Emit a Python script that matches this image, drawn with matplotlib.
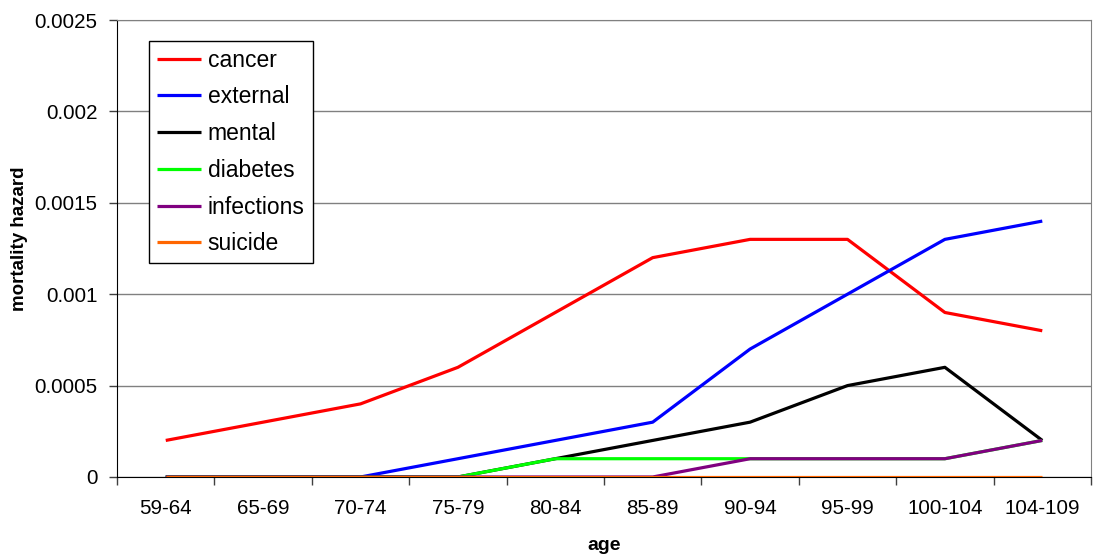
import matplotlib
matplotlib.use("Agg")
import matplotlib.pyplot as plt
from matplotlib.ticker import FixedLocator, NullFormatter

plt.rcParams['font.family'] = ['Liberation Sans', 'DejaVu Sans']

ages = ["59-64", "65-69", "70-74", "75-79", "80-84", "85-89", "90-94", "95-99", "100-104", "104-109"]
cancer = [0.0002, 0.0003, 0.0004, 0.0006, 0.0009, 0.0012, 0.0013, 0.0013, 0.0009, 0.0008]
external = [0, 0, 0, 0.0001, 0.0002, 0.0003, 0.0007, 0.0010, 0.0013, 0.0014]
mental = [0, 0, 0, 0, 0.0001, 0.0002, 0.0003, 0.0005, 0.0006, 0.0002]
diabetes = [0, 0, 0, 0, 0.0001, 0.0001, 0.0001, 0.0001, 0.0001, 0.0002]
infections = [0, 0, 0, 0, 0, 0, 0.0001, 0.0001, 0.0001, 0.0002]
suicide = [0, 0, 0, 0, 0, 0, 0, 0, 0, 0]
yticks = [0, 0.0005, 0.001, 0.0015, 0.002, 0.0025]
ytick_labels = ["0", "0.0005", "0.001", "0.0015", "0.002", "0.0025"]

series = [("cancer", cancer, "#ff0000"),
          ("external", external, "#0000ff"),
          ("mental", mental, "#000000"),
          ("diabetes", diabetes, "#00ff00"),
          ("infections", infections, "#800080"),
          ("suicide", suicide, "#ff6600")]

fig = plt.figure(figsize=(10.98, 5.56), dpi=100)
ax = fig.add_axes([0.1066, 0.1421, 0.8870, 0.8219])

x = list(range(len(ages)))
for name, vals, col in series:
    ax.plot(x, vals, color=col, lw=2.3, label=name, solid_capstyle='butt', zorder=3)

ax.set_xlim(-0.5, len(ages) - 0.5)
ax.set_ylim(0, 0.0025)
ax.set_yticks(yticks)
ax.set_yticklabels(ytick_labels)
ax.yaxis.grid(True, color="#808080", lw=1.0, zorder=0)
ax.set_axisbelow(True)

ax.set_xticks(x)
ax.set_xticklabels(ages)
ax.tick_params(axis='x', which='major', length=0, pad=16, labelsize=14.8)
ax.xaxis.set_minor_locator(FixedLocator([i - 0.5 for i in range(len(ages) + 1)]))
ax.xaxis.set_minor_formatter(NullFormatter())
ax.tick_params(axis='x', which='minor', length=6, direction='out', width=1, color='#404040')
ax.tick_params(axis='y', length=6, direction='out', width=1, labelsize=14.8, pad=8, color='#404040')

for s in ['top', 'right']:
    ax.spines[s].set_color('#808080')
for s in ['left', 'bottom']:
    ax.spines[s].set_color('#000000')

ax.set_xlabel("age", fontsize=14, fontweight='bold')
ax.set_ylabel("mortality hazard", fontsize=13.5, fontweight='bold')
ax.xaxis.set_label_coords(0.5, -0.149)
ax.xaxis.label.set_va('center')
ax.yaxis.set_label_coords(-0.1006, 0.522)
ax.yaxis.label.set_va('center')

leg = ax.legend(loc='upper left', bbox_to_anchor=(0.033, 0.955), borderaxespad=0,
                fancybox=False, edgecolor='black', framealpha=1, fontsize=16.5,
                handlelength=1.9, labelspacing=0.6, handletextpad=0.3,
                borderpad=0.35)
leg.get_frame().set_linewidth(1.0)

fig.savefig("out.png", dpi=100)
